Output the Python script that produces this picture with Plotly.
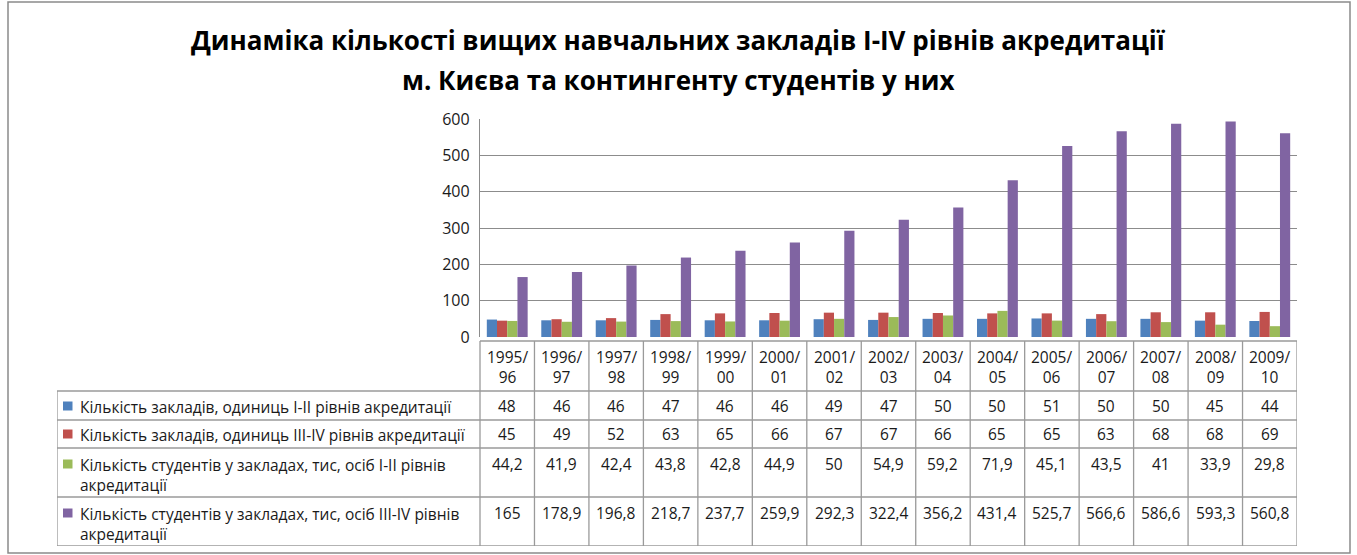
import plotly.graph_objects as go

# ---------------- data ----------------
categories = ["1995/96", "1996/97", "1997/98", "1998/99", "1999/00", "2000/01", "2001/02",
              "2002/03", "2003/04", "2004/05", "2005/06", "2006/07", "2007/08", "2008/09", "2009/10"]
cat_labels = [c.replace("/", "/<br>") for c in categories]

series_names = [
    "Кількість закладів, одиниць I-II рівнів акредитації",
    "Кількість закладів, одиниць III-IV рівнів акредитації",
    "Кількість студентів у закладах, тис, осіб I-II рівнів<br>акредитації",
    "Кількість студентів у закладах, тис, осіб III-IV рівнів<br>акредитації",
]
inst_1_2 = [48, 46, 46, 47, 46, 46, 49, 47, 50, 50, 51, 50, 50, 45, 44]
inst_3_4 = [45, 49, 52, 63, 65, 66, 67, 67, 66, 65, 65, 63, 68, 68, 69]
stud_1_2 = [44.2, 41.9, 42.4, 43.8, 42.8, 44.9, 50, 54.9, 59.2, 71.9, 45.1, 43.5, 41, 33.9, 29.8]
stud_3_4 = [165, 178.9, 196.8, 218.7, 237.7, 259.9, 292.3, 322.4, 356.2, 431.4, 525.7, 566.6, 586.6, 593.3, 560.8]
series_values = [inst_1_2, inst_3_4, stud_1_2, stud_3_4]
colors = ["#4F81BD", "#C0504D", "#9BBB59", "#8064A2"]
y_ticks = [0, 100, 200, 300, 400, 500, 600]

title_lines = ["Динаміка кількості вищих навчальних закладів I-IV рівнів акредитації",
               "м. Києва та контингенту студентів у них"]

# ---------------- layout geometry (page pixels) ----------------
W, H = 1357, 555
L, R = 57, 1297           # table left / right
T, B = 119, 546           # plot top / table bottom
AX_LEFT = 480             # start of category columns
Y0 = 337                  # y=0 pixel
col_w = (R - AX_LEFT) / len(categories)
pw, ph = R - L, B - T

def px_x(p):
    return (p - L) / pw

def px_y(p):
    return (B - p) / ph

font_main = "Open Sans"
txt_col = "#1a1a1a"
line_col = "#9a9a9a"
tsize = 15.5

fig = go.Figure()
for name, vals, col in zip(series_names, series_values, colors):
    fig.add_trace(go.Bar(x=categories, y=vals, name=name.replace("<br>", " "),
                         marker=dict(color=col, line=dict(width=0)),
                         xaxis="x", yaxis="y", showlegend=False))
fig.add_trace(go.Scatter(x=[0], y=[400], mode="markers", marker=dict(opacity=0),
                         xaxis="x2", yaxis="y2", showlegend=False, hoverinfo="skip"))

shapes = []
annotations = []

header_top, header_bot = 341, 391
row_bounds = [391, 420, 448, 497, 546]
first_line_y = [406, 434, 464, 513]
left_x2 = -0.5 - (AX_LEFT - L) / col_w

ln = dict(color=line_col, width=1.3)
shapes.append(dict(type="line", xref="x2", yref="y2", x0=-0.5, x1=len(categories) - 0.5,
                   y0=header_top, y1=header_top, line=ln))
for yb in row_bounds:
    shapes.append(dict(type="line", xref="x2", yref="y2", x0=left_x2,
                       x1=len(categories) - 0.5, y0=yb, y1=yb, line=ln))
for i in range(len(categories) + 1):
    shapes.append(dict(type="line", xref="x2", yref="y2", x0=i - 0.5, x1=i - 0.5,
                       y0=header_top, y1=B, line=ln))
shapes.append(dict(type="line", xref="x2", yref="y2", x0=left_x2, x1=left_x2,
                   y0=row_bounds[0], y1=B, line=ln))

for i, lab in enumerate(cat_labels):
    annotations.append(dict(xref="x2", yref="y2", x=i, y=(header_top + header_bot) / 2 + 1,
                            text=lab, showarrow=False, align="center", yanchor="middle",
                            font=dict(family=font_main, size=tsize, color=txt_col)))

key_x = left_x2 + 6 / col_w
for r, (name, vals, col) in enumerate(zip(series_names, series_values, colors)):
    yl = first_line_y[r]
    shapes.append(dict(type="rect", xref="x2", yref="y2", x0=key_x, x1=key_x + 9.5 / col_w,
                       y0=yl - 4.5, y1=yl + 4.5, fillcolor=col, line=dict(width=0)))
    annotations.append(dict(xref="x2", yref="y2", x=key_x + 15 / col_w,
                            y=yl - 12, yanchor="top", xanchor="left",
                            text=name, showarrow=False, align="left",
                            font=dict(family=font_main, size=tsize, color=txt_col)))
    for i, v in enumerate(vals):
        annotations.append(dict(xref="x2", yref="y2", x=i, y=yl, yanchor="middle",
                                text=str(v).replace(".", ","), showarrow=False,
                                font=dict(family=font_main, size=tsize, color=txt_col)))

for k, t in enumerate(title_lines):
    annotations.append(dict(xref="paper", yref="paper", x=px_x(678), y=px_y(40 + 40 * k),
                            xanchor="center", yanchor="middle",
                            text="<b>" + t + "</b>", showarrow=False,
                            font=dict(family=font_main, size=26, color="#000000")))

shapes.append(dict(type="rect", xref="paper", yref="paper", x0=px_x(8), x1=px_x(1350),
                   y0=px_y(553), y1=px_y(2), line=dict(color="#8a8a8a", width=1.5)))

fig.update_layout(
    width=W, height=H, autosize=False,
    margin=dict(l=L, r=W - R, t=T, b=H - B, pad=0, autoexpand=False),
    paper_bgcolor="white", plot_bgcolor="white",
    barmode="group", bargap=0.25, bargroupgap=0.0,
    xaxis=dict(domain=[px_x(AX_LEFT), 1], anchor="y", type="category",
               range=[-0.5, len(categories) - 0.5], showticklabels=False, ticks="",
               showgrid=False, zeroline=False, showline=False, automargin=False),
    yaxis=dict(domain=[px_y(Y0), 1], anchor="x", range=[0, 600], tickvals=y_ticks,
               tickfont=dict(family=font_main, size=16, color=txt_col),
               showgrid=True, gridcolor="#8c8c8c", gridwidth=1.3,
               zeroline=False, showline=True, linecolor="#8c8c8c", linewidth=1.3,
               ticks="", ticklabelstandoff=6, automargin=False),
    xaxis2=dict(domain=[0, 1], anchor="y2", range=[left_x2, len(categories) - 0.5],
                visible=False, automargin=False),
    yaxis2=dict(domain=[0, px_y(Y0)], anchor="x2", range=[B, Y0], visible=False,
                automargin=False),
    shapes=shapes, annotations=annotations,
)

fig.write_html("out.html",
               config={"displayModeBar": False, "responsive": False},
               post_script="document.body.style.margin='0px';document.body.style.overflow='hidden';")
